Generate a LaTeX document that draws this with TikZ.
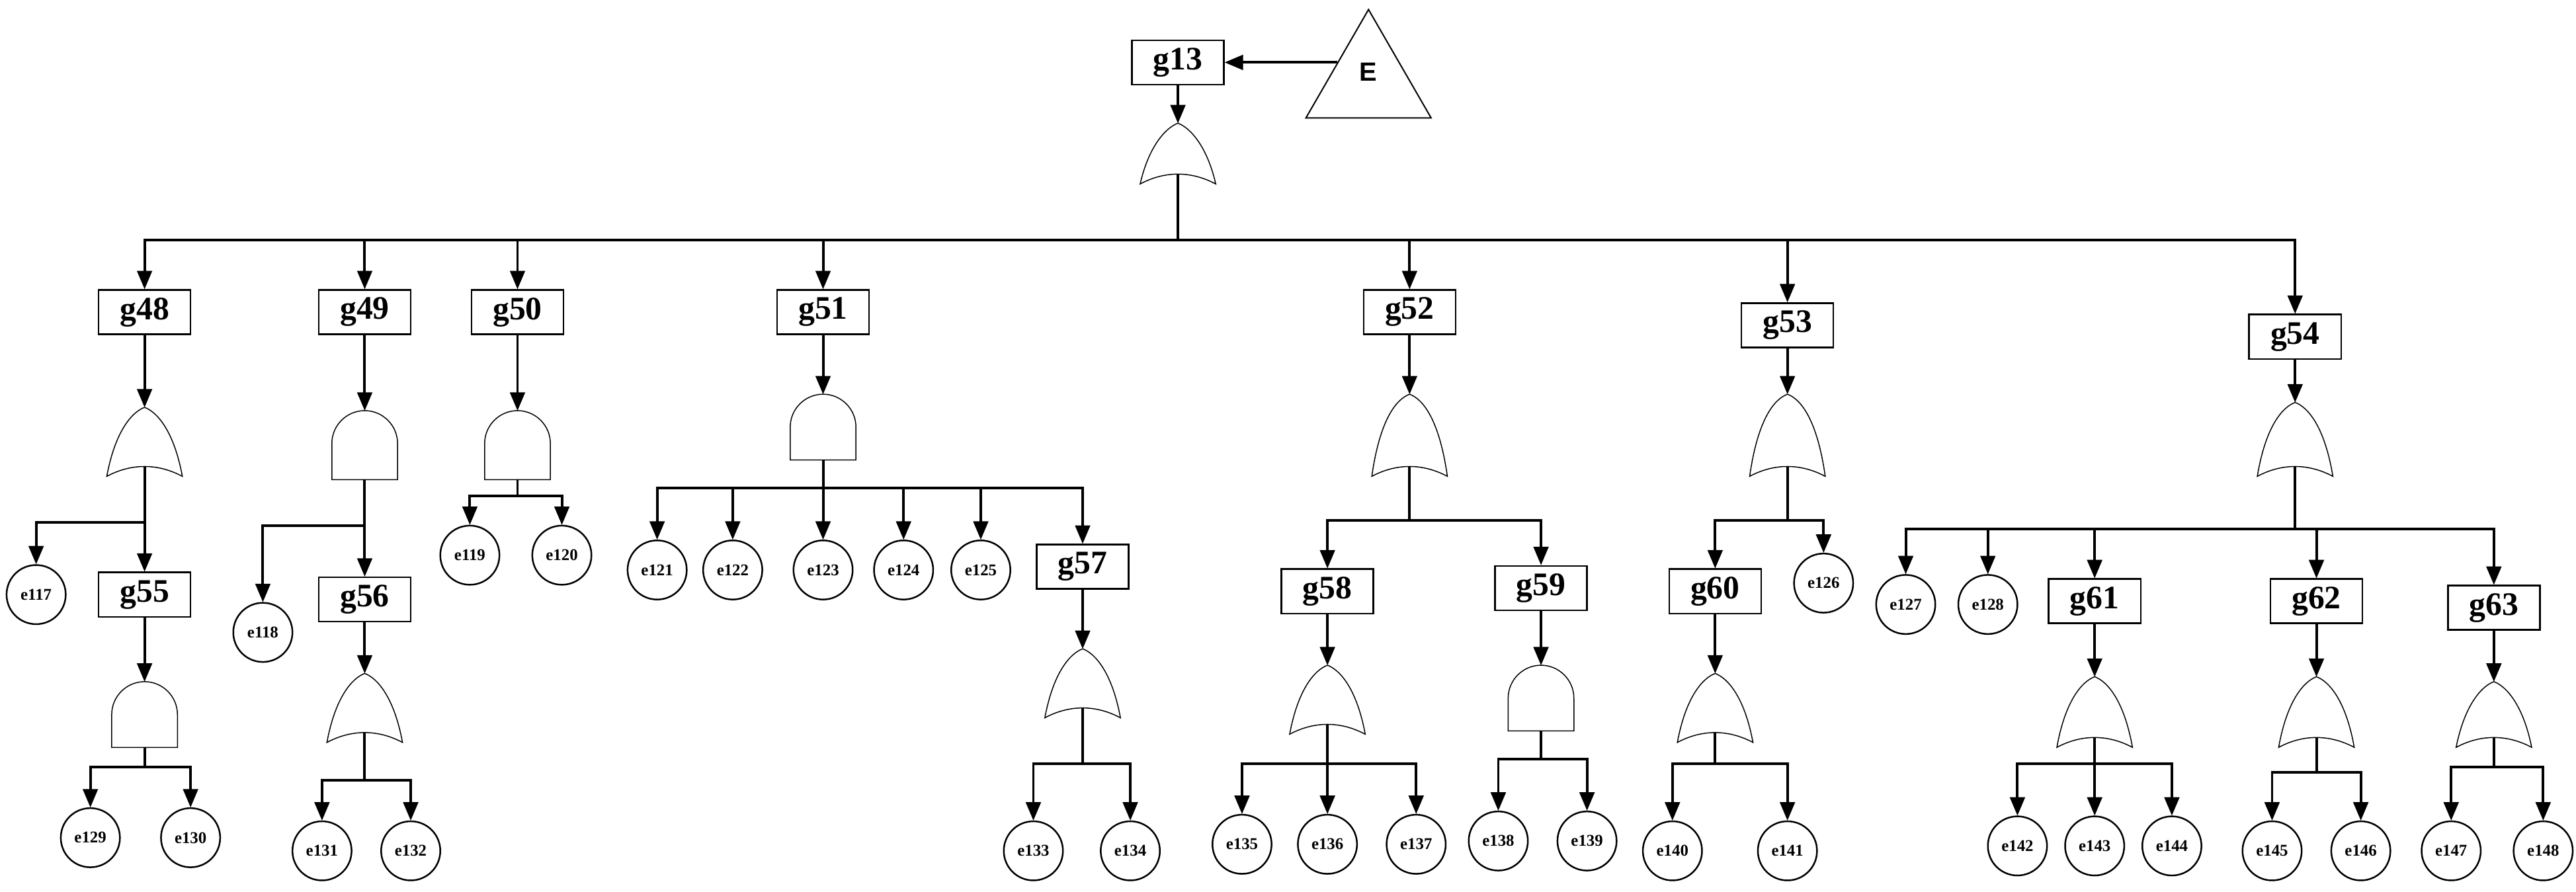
\documentclass[tikz,border=0pt]{standalone}
\usepackage{fontspec}
\setmainfont{Liberation Serif}
\newfontfamily\sansE{Liberation Sans}
\usetikzlibrary{arrows,positioning,calc,shapes.geometric}

% gates: name, x, top, bottom
\newcommand{\orgt}[4]{%
  \draw[gate] (#2-23,#4) .. controls (#2-18,#3+15) and (#2-8,#3+3) .. (#2,#3)
    .. controls (#2+8,#3+3) and (#2+18,#3+15) .. (#2+23,#4)
    .. controls (#2+8,#4-8) and (#2-8,#4-8) .. cycle;
  \coordinate (#1i) at (#2,#3); \coordinate (#1o) at (#2,#4-6);}
\newcommand{\andgt}[4]{%
  \draw[gate] (#2-20,#4) -- (#2-20,#3+20) .. controls (#2-20,#3+9) and (#2-11,#3) .. (#2,#3)
    .. controls (#2+11,#3) and (#2+20,#3+9) .. (#2+20,#3+20) -- (#2+20,#4) -- cycle;
  \coordinate (#1i) at (#2,#3); \coordinate (#1o) at (#2,#4);}
% fan out from a gate to a child
\newcommand{\fan}[3]{\draw[arr] (#1) -- (#1 |- 0,#2) -| (#3);}

\begin{document}
\begin{tikzpicture}
  [x=1pt,y=-1pt,
  gbox/.style={rectangle,draw,line width=1pt,minimum width=56pt,minimum height=27pt,inner sep=1pt,font=\fontsize{20}{20}\selectfont\bfseries},
  ev/.style={circle,draw,line width=1pt,minimum size=36pt,inner sep=0pt,font=\fontsize{10}{10}\selectfont\bfseries},
  gate/.style={draw,line width=0.6pt},
  arr/.style={-triangle 45,line width=1.6pt}]
  \useasboundingbox (0,0) rectangle (1568,543);
  % top
  \node (g13) [gbox] at (717,38) {g13};
  \node (E) [isosceles triangle,isosceles triangle apex angle=60,shape border rotate=90,draw,line width=0.8pt,minimum height=66pt,inner sep=0pt,anchor=north] at (833,5) {};
  \node (Et) at (833,44) {\sansE\fontsize{16}{16}\selectfont\bfseries E};
  \coordinate (Eside) at (814,38);
  \draw[arr] (Eside) -- (g13.east);
  \orgt{o13}{717}{75}{112}
  \draw[arr] (g13) -- (o13i);
  % level 1
  \node (g48) [gbox] at (88,190) {g48};
  \node (g49) [gbox] at (222,190) {g49};
  \node (g50) [gbox] at (315,190) {g50};
  \node (g51) [gbox] at (501,190) {g51};
  \node (g52) [gbox] at (858,190) {g52};
  \node (g53) [gbox] at (1088,198) {g53};
  \node (g54) [gbox] at (1397,205) {g54};
  \foreach \g in {g48,g49,g50,g51,g52,g53,g54}
    \fan{o13o}{146}{\g};
  % g48
  \orgt{o48}{88}{248}{290}
  \draw[arr] (g48) -- (o48i);
  \node (e117) [ev] at (22,362) {e117};
  \node (g55) [gbox] at (88,362) {g55};
  \fan{o48o}{318}{e117} \fan{o48o}{318}{g55}
  \andgt{a55}{88}{415}{455}
  \draw[arr] (g55) -- (a55i);
  \node (e129) [ev] at (55,510) {e129};
  \node (e130) [ev] at (116,510) {e130};
  \fan{a55o}{467}{e129} \fan{a55o}{467}{e130}
  % g49
  \andgt{a49}{222}{250}{292}
  \draw[arr] (g49) -- (a49i);
  \node (e118) [ev] at (160,385) {e118};
  \node (g56) [gbox] at (222,365) {g56};
  \fan{a49o}{320}{e118} \fan{a49o}{320}{g56}
  \orgt{o56}{222}{410}{452}
  \draw[arr] (g56) -- (o56i);
  \node (e131) [ev] at (196,518) {e131};
  \node (e132) [ev] at (250,518) {e132};
  \fan{o56o}{475}{e131} \fan{o56o}{475}{e132}
  % g50
  \andgt{a50}{315}{250}{292}
  \draw[arr] (g50) -- (a50i);
  \node (e119) [ev] at (286,338) {e119};
  \node (e120) [ev] at (342,338) {e120};
  \fan{a50o}{302}{e119} \fan{a50o}{302}{e120}
  % g51
  \andgt{a51}{501}{240}{280}
  \draw[arr] (g51) -- (a51i);
  \node (e121) [ev] at (400,347) {e121};
  \node (e122) [ev] at (446,347) {e122};
  \node (e123) [ev] at (501,347) {e123};
  \node (e124) [ev] at (550,347) {e124};
  \node (e125) [ev] at (597,347) {e125};
  \node (g57) [gbox] at (659,345) {g57};
  \foreach \c in {e121,e122,e123,e124,e125,g57}
    \fan{a51o}{297}{\c};
  \orgt{o57}{659}{395}{437}
  \draw[arr] (g57) -- (o57i);
  \node (e133) [ev] at (629,518) {e133};
  \node (e134) [ev] at (688,518) {e134};
  \fan{o57o}{465}{e133} \fan{o57o}{465}{e134}
  % g52
  \orgt{o52}{858}{240}{290}
  \draw[arr] (g52) -- (o52i);
  \node (g58) [gbox] at (808,360) {g58};
  \node (g59) [gbox] at (938,358) {g59};
  \fan{o52o}{317}{g58} \fan{o52o}{317}{g59}
  \orgt{o58}{808}{405}{447}
  \draw[arr] (g58) -- (o58i);
  \node (e135) [ev] at (756,514) {e135};
  \node (e136) [ev] at (808,514) {e136};
  \node (e137) [ev] at (862,514) {e137};
  \foreach \c in {e135,e136,e137}
    \fan{o58o}{465}{\c};
  \andgt{a59}{938}{405}{445}
  \draw[arr] (g59) -- (a59i);
  \node (e138) [ev] at (912,512) {e138};
  \node (e139) [ev] at (966,512) {e139};
  \fan{a59o}{462}{e138} \fan{a59o}{462}{e139}
  % g53
  \orgt{o53}{1088}{240}{290}
  \draw[arr] (g53) -- (o53i);
  \node (g60) [gbox] at (1044,360) {g60};
  \node (e126) [ev] at (1110,355) {e126};
  \fan{o53o}{317}{g60} \fan{o53o}{317}{e126}
  \orgt{o60}{1044}{410}{452}
  \draw[arr] (g60) -- (o60i);
  \node (e140) [ev] at (1018,518) {e140};
  \node (e141) [ev] at (1088,518) {e141};
  \fan{o60o}{465}{e140} \fan{o60o}{465}{e141}
  % g54
  \orgt{o54}{1397}{245}{290}
  \draw[arr] (g54) -- (o54i);
  \node (e127) [ev] at (1160,368) {e127};
  \node (e128) [ev] at (1210,368) {e128};
  \node (g61) [gbox] at (1275,366) {g61};
  \node (g62) [gbox] at (1410,366) {g62};
  \node (g63) [gbox] at (1518,370) {g63};
  \foreach \c in {e127,e128,g61,g62,g63}
    \fan{o54o}{322}{\c};
  \orgt{o61}{1275}{412}{455}
  \draw[arr] (g61) -- (o61i);
  \node (e142) [ev] at (1228,515) {e142};
  \node (e143) [ev] at (1275,515) {e143};
  \node (e144) [ev] at (1322,515) {e144};
  \foreach \c in {e142,e143,e144}
    \fan{o61o}{465}{\c};
  \orgt{o62}{1410}{412}{455}
  \draw[arr] (g62) -- (o62i);
  \node (e145) [ev] at (1383,518) {e145};
  \node (e146) [ev] at (1437,518) {e146};
  \fan{o62o}{470}{e145} \fan{o62o}{470}{e146}
  \orgt{o63}{1518}{415}{455}
  \draw[arr] (g63) -- (o63i);
  \node (e147) [ev] at (1492,518) {e147};
  \node (e148) [ev] at (1548,518) {e148};
  \fan{o63o}{467}{e147} \fan{o63o}{467}{e148}
\end{tikzpicture}
\end{document}
